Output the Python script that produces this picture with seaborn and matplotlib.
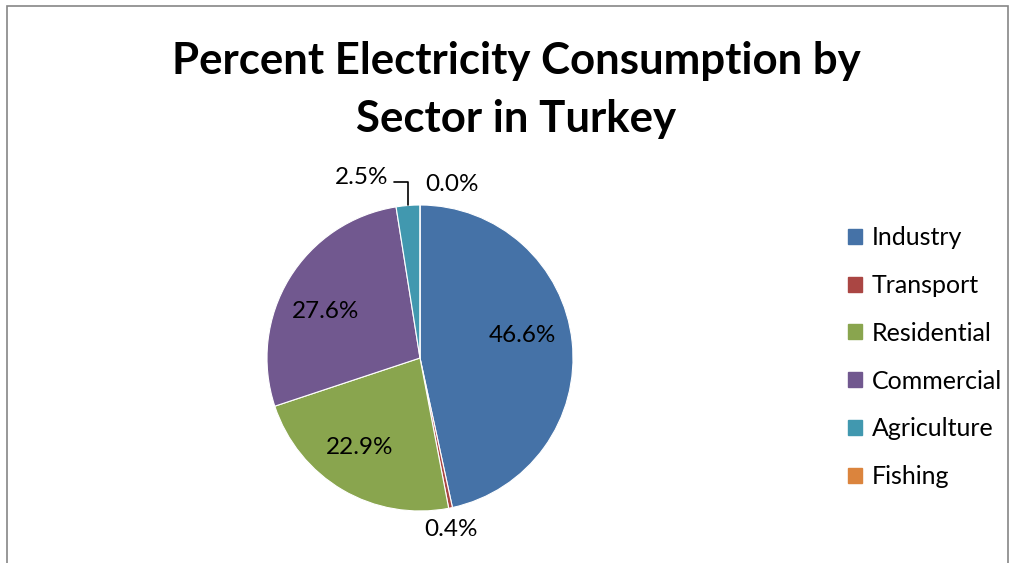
import matplotlib
matplotlib.use("Agg")
import matplotlib.pyplot as plt
import matplotlib.patches as mpatches
import numpy as np
import seaborn as sns

sns.set_theme(style="white")
plt.rcParams['font.family'] = ['Lato', 'DejaVu Sans']
plt.rcParams['text.color'] = 'black'

# datos
sectores = ['Industry', 'Transport', 'Residential', 'Commercial', 'Agriculture', 'Fishing']
porcentajes = [46.6, 0.4, 22.9, 27.6, 2.5, 0.0]
colores = ['#4572A7', '#AA4643', '#89A54E', '#71588F', '#4198AF', '#DB843D']

# posiciones de las etiquetas (en radios del pastel)
pos_etiquetas = [(0.667, 0.15), (0.203, -1.124), (-0.392, -0.588),
                 (-0.614, 0.307), (-0.379, 1.183), (0.209, 1.131)]

fig = plt.figure(figsize=(10.13, 5.63), dpi=100)

# marco del gráfico (recortado por abajo)
marco = mpatches.Rectangle((7 / 1013, -0.1), 1001 / 1013, 1.1 - 6.5 / 563,
                           transform=fig.transFigure, fill=False,
                           edgecolor='#868686', linewidth=1.2)
fig.patches.append(marco)

ax = fig.add_axes([267 / 1013, 52 / 563, 306 / 1013, 306 / 563])
wedges, _ = ax.pie(porcentajes, colors=colores, startangle=90, counterclock=False,
                   radius=1, wedgeprops=dict(edgecolor='white', linewidth=0.8))
ax.set_xlim(-1, 1)
ax.set_ylim(-1, 1)
ax.set_aspect('equal')
ax.axis('off')

for valor, (x, y) in zip(porcentajes, pos_etiquetas):
    ax.text(x, y, f"{valor:.1f}%", ha='center', va='center', fontsize=17.5,
            color='black', clip_on=False)

# línea guía para Agriculture
w = wedges[4]
ang = np.deg2rad((w.theta1 + w.theta2) / 2)
px, py = np.cos(ang), np.sin(ang)
ax.plot([-0.17, px, px], [1.15, 1.15, py], color='black', linewidth=1.2,
        clip_on=False)

fig.text(516 / 1013, 1 - 61 / 563, "Percent Electricity Consumption by",
         ha='center', va='center', fontsize=31.5, fontweight='bold', color='black')
fig.text(516 / 1013, 1 - 119 / 563, "Sector in Turkey",
         ha='center', va='center', fontsize=31.5, fontweight='bold', color='black')

handles = [mpatches.Patch(color=c, label=s) for c, s in zip(colores, sectores)]
fig.legend(handles=handles, loc='upper left', bbox_to_anchor=(848 / 1013, 1 - 226 / 563),
           frameon=False, fontsize=18, handlelength=0.55, handleheight=0.55,
           handletextpad=0.4, labelspacing=0.995, borderaxespad=0, borderpad=0,
           labelcolor='black')

fig.savefig("out.png", dpi=100)
